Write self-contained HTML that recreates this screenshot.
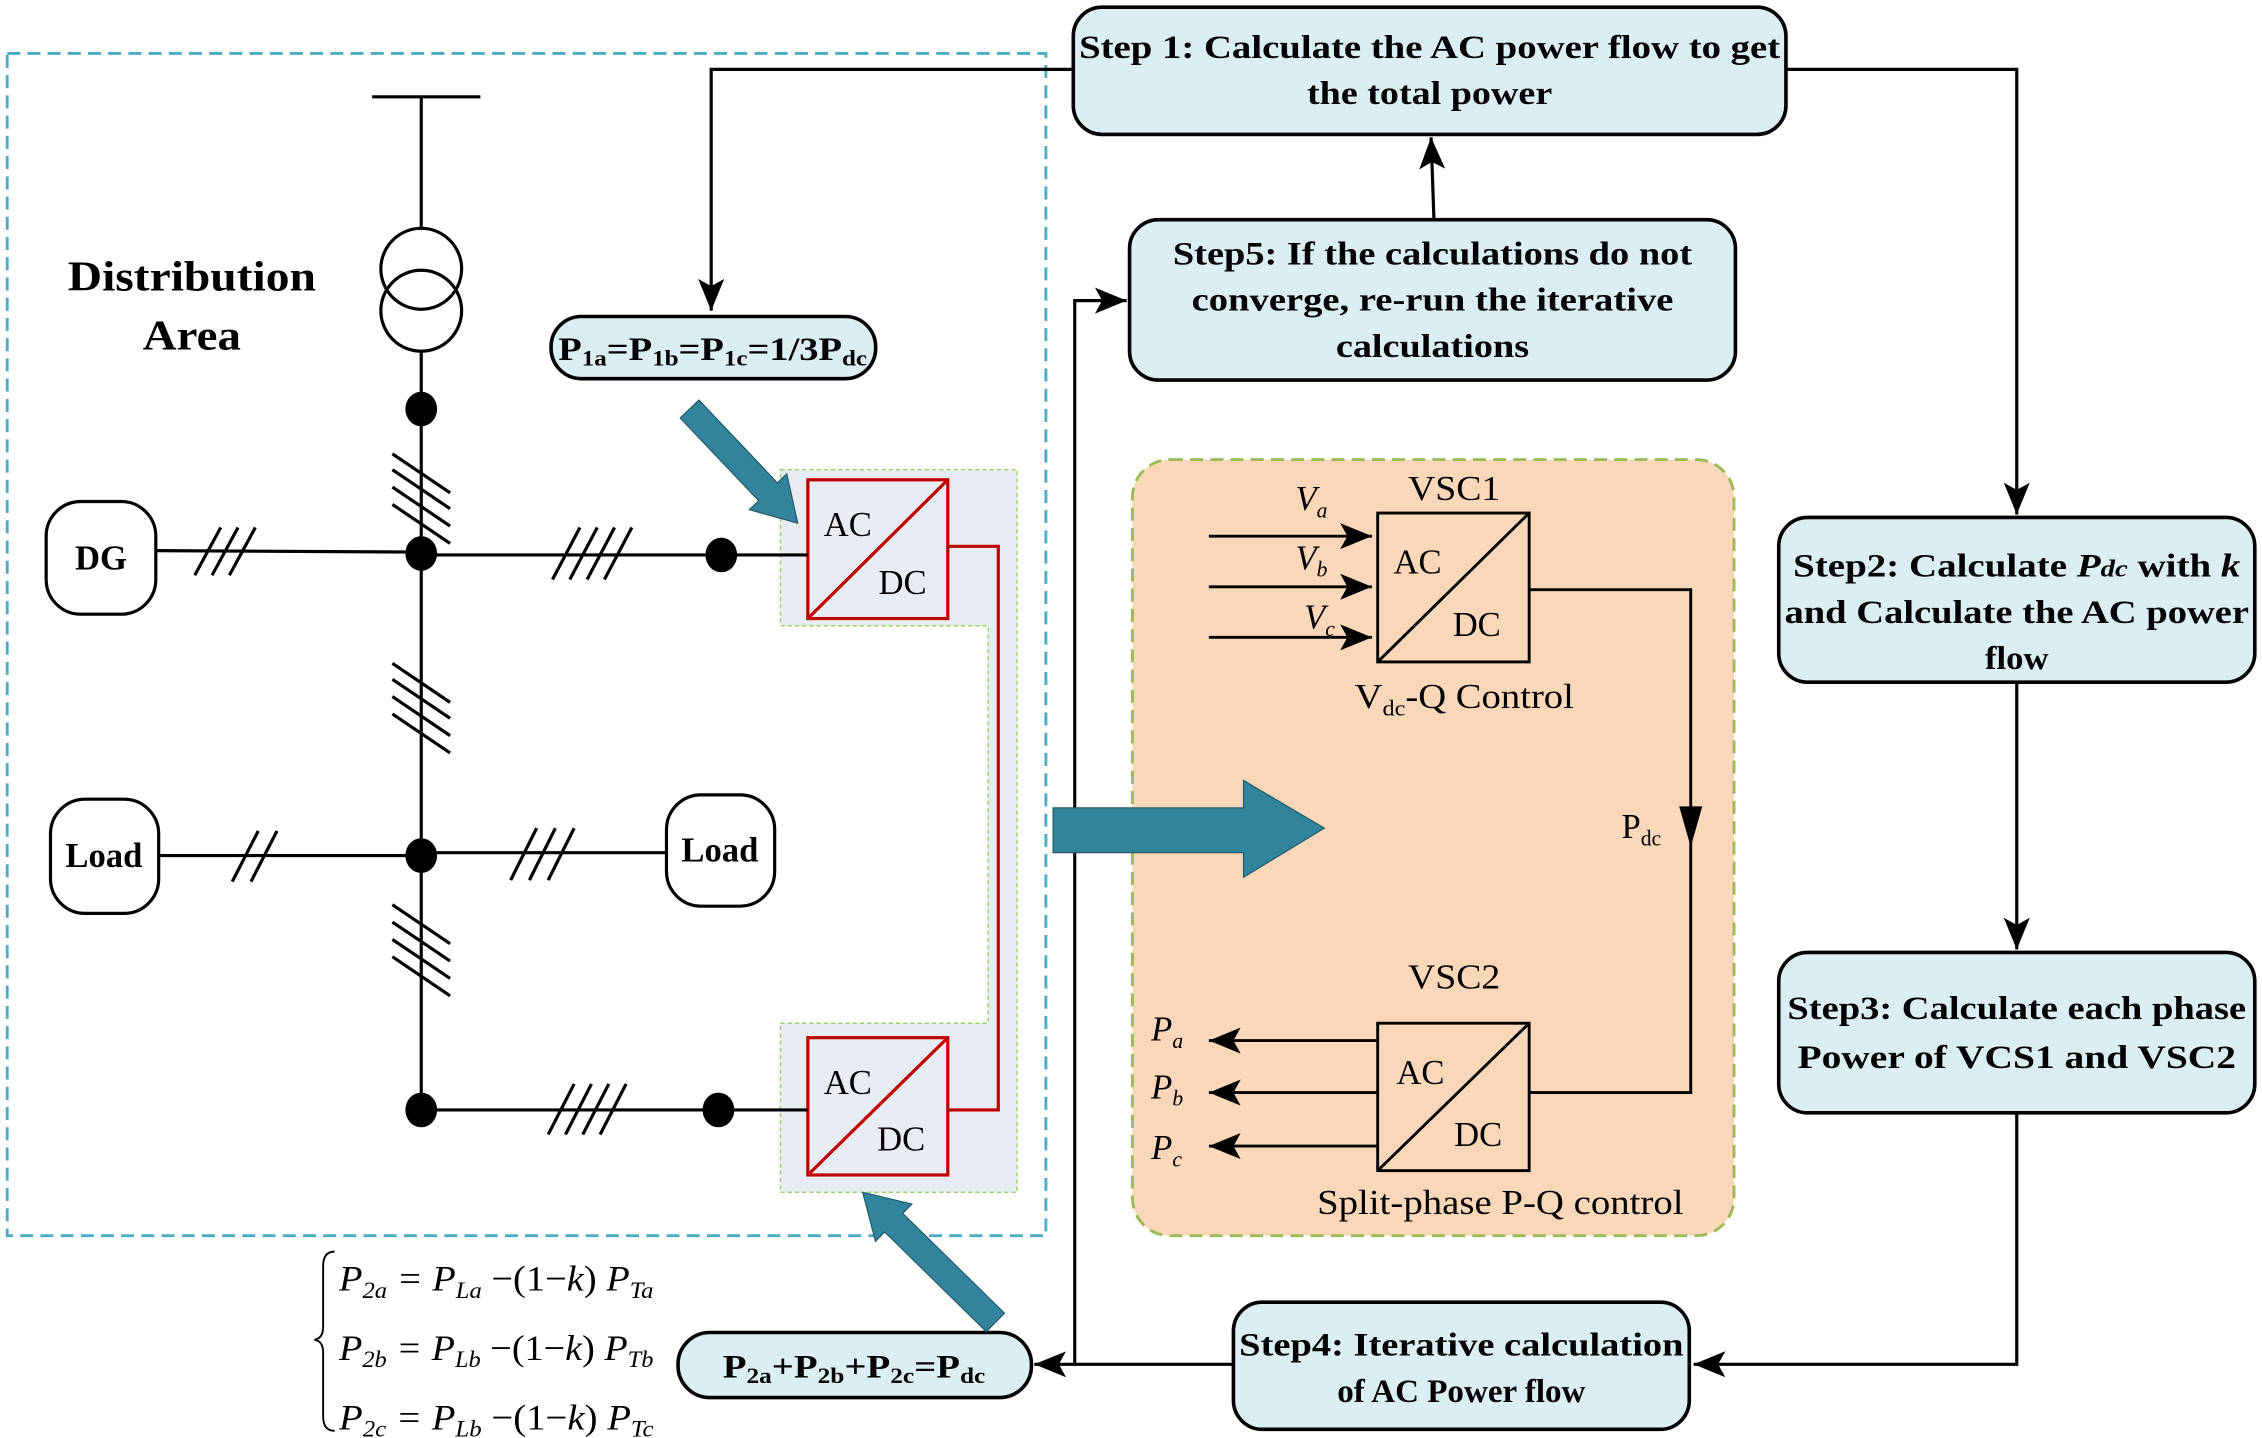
<!DOCTYPE html>
<html><head><meta charset="utf-8"><style>html,body{margin:0;padding:0;background:#fff}svg{display:block}</style></head><body>
<svg width="2262" height="1438" viewBox="0 0 1568 995" preserveAspectRatio="none" xmlns="http://www.w3.org/2000/svg" font-family="'Liberation Serif', serif">
<defs>
<marker id="ab" markerWidth="24" markerHeight="24" refX="22" refY="12" orient="auto" markerUnits="userSpaceOnUse"><path d="M0,3 L22,12 L0,21 L5,12 Z" fill="#000"/></marker>
</defs>
<rect width="1568" height="995" fill="#fff"/>
<rect x="5" y="37" width="720" height="818" fill="none" stroke="#4bacc6" stroke-width="2" stroke-dasharray="9,5"/>
<g stroke="#000" stroke-width="2.2" fill="none">
<polyline points="744,48 493,48 493,215" marker-end="url(#ab)"/>
<line x1="994" y1="152" x2="992" y2="95" marker-end="url(#ab)"/>
<polyline points="1238,48 1398,48 1398,356" marker-end="url(#ab)"/>
<line x1="1398" y1="472" x2="1398" y2="657" marker-end="url(#ab)"/>
<polyline points="1398,770 1398,944 1174,944" marker-end="url(#ab)"/>
<line x1="855" y1="944" x2="717" y2="944" marker-end="url(#ab)"/>
<polyline points="745,944 745,208 781,208" marker-end="url(#ab)"/>
</g>
<g fill="#daeef3" stroke="#000" stroke-width="2.5">
<rect x="744" y="5" width="494" height="88" rx="20"/>
<rect x="783" y="152" width="420" height="111" rx="20"/>
<rect x="1233" y="358" width="330" height="114" rx="20"/>
<rect x="1233" y="659" width="330" height="111" rx="20"/>
<rect x="855" y="901" width="316" height="88" rx="20"/>
<rect x="382" y="219" width="225" height="43" rx="21"/>
<rect x="470" y="922" width="245" height="45" rx="22"/>
</g>
<g font-weight="bold" font-size="23" text-anchor="middle" fill="#000" lengthAdjust="spacingAndGlyphs">
<text x="991" y="40" textLength="486" lengthAdjust="spacingAndGlyphs">Step 1: Calculate the AC power flow to get</text>
<text x="991" y="72" textLength="170" lengthAdjust="spacingAndGlyphs">the total power</text>
<text x="993" y="183" textLength="360" lengthAdjust="spacingAndGlyphs">Step5: If the calculations do not</text>
<text x="993" y="215" textLength="334" lengthAdjust="spacingAndGlyphs">converge, re-run the iterative</text>
<text x="993" y="247" textLength="134" lengthAdjust="spacingAndGlyphs">calculations</text>
<text x="1398" y="399" textLength="310" lengthAdjust="spacingAndGlyphs">Step2: Calculate <tspan font-style="italic">P<tspan font-size="17">dc</tspan></tspan> with <tspan font-style="italic">k</tspan></text>
<text x="1398" y="431" textLength="322" lengthAdjust="spacingAndGlyphs">and Calculate the AC power</text>
<text x="1398" y="463" textLength="44" lengthAdjust="spacingAndGlyphs">flow</text>
<text x="1398" y="705" textLength="318" lengthAdjust="spacingAndGlyphs">Step3: Calculate each phase</text>
<text x="1398" y="739" textLength="304" lengthAdjust="spacingAndGlyphs">Power of  VCS1 and VSC2</text>
<text x="1013" y="938" textLength="308" lengthAdjust="spacingAndGlyphs">Step4: Iterative calculation</text>
<text x="1013" y="970" textLength="172" lengthAdjust="spacingAndGlyphs">of AC Power flow</text>
<text x="494" y="249" textLength="214" lengthAdjust="spacingAndGlyphs">P<tspan font-size="15" dy="4">1a</tspan><tspan dy="-4">=P</tspan><tspan font-size="15" dy="4">1b</tspan><tspan dy="-4">=P</tspan><tspan font-size="15" dy="4">1c</tspan><tspan dy="-4">=1/3P</tspan><tspan font-size="15" dy="4">dc</tspan></text>
<text x="592" y="953" textLength="182" lengthAdjust="spacingAndGlyphs">P<tspan font-size="15" dy="4">2a</tspan><tspan dy="-4">+P</tspan><tspan font-size="15" dy="4">2b</tspan><tspan dy="-4">+P</tspan><tspan font-size="15" dy="4">2c</tspan><tspan dy="-4">=P</tspan><tspan font-size="15" dy="4">dc</tspan></text>
<text x="133" y="201" font-size="29" textLength="172" lengthAdjust="spacingAndGlyphs">Distribution</text>
<text x="133" y="242" font-size="29" textLength="68" lengthAdjust="spacingAndGlyphs">Area</text>
</g>
<path d="M232,866 Q224,866 224,876 L224,918 Q224,926 218,927 Q224,928 224,936 L224,980 Q224,990 232,990" fill="none" stroke="#000" stroke-width="1.3"/>
<g font-size="25" font-style="italic" fill="#000">
<text x="235" y="893" textLength="218" lengthAdjust="spacingAndGlyphs">P<tspan font-size="16" dy="5">2a</tspan><tspan dy="-5"> = P</tspan><tspan font-size="16" dy="5">La</tspan><tspan dy="-5" font-style="normal"> −(1−</tspan><tspan>k</tspan><tspan font-style="normal">)</tspan> P<tspan font-size="16" dy="5">Ta</tspan></text>
<text x="235" y="941" textLength="218" lengthAdjust="spacingAndGlyphs">P<tspan font-size="16" dy="5">2b</tspan><tspan dy="-5"> = P</tspan><tspan font-size="16" dy="5">Lb</tspan><tspan dy="-5" font-style="normal"> −(1−</tspan><tspan>k</tspan><tspan font-style="normal">)</tspan> P<tspan font-size="16" dy="5">Tb</tspan></text>
<text x="235" y="989" textLength="218" lengthAdjust="spacingAndGlyphs">P<tspan font-size="16" dy="5">2c</tspan><tspan dy="-5"> = P</tspan><tspan font-size="16" dy="5">Lb</tspan><tspan dy="-5" font-style="normal"> −(1−</tspan><tspan>k</tspan><tspan font-style="normal">)</tspan> P<tspan font-size="16" dy="5">Tc</tspan></text>
</g>
<rect x="785" y="318" width="417" height="537" rx="26" fill="#fad7b8" stroke="#9bbb59" stroke-width="2" stroke-dasharray="9,5"/>
<path d="M730,559 L862,559 L862,540 L918,573 L862,607 L862,590 L730,590 Z" fill="#31849b" stroke="#205867" stroke-width="0.8"/>
<g stroke="#000" stroke-width="2" fill="none">
<rect x="955" y="355" width="105" height="103"/><line x1="955" y1="458" x2="1060" y2="355"/>
<rect x="955" y="708" width="105" height="102"/><line x1="955" y1="810" x2="1060" y2="708"/>
<line x1="838" y1="371" x2="951" y2="371" marker-end="url(#ab)"/>
<line x1="838" y1="406" x2="951" y2="406" marker-end="url(#ab)"/>
<line x1="838" y1="441" x2="951" y2="441" marker-end="url(#ab)"/>
<line x1="955" y1="720" x2="838" y2="720" marker-end="url(#ab)"/>
<line x1="955" y1="756" x2="838" y2="756" marker-end="url(#ab)"/>
<line x1="955" y1="793" x2="838" y2="793" marker-end="url(#ab)"/>
<polyline points="1060,408 1172,408 1172,756 1060,756"/>
</g>
<path d="M1164,558 L1172,586 L1180,558 Z" fill="#000"/>
<g font-size="24" fill="#000">
<text x="1008" y="346" text-anchor="middle" textLength="64" lengthAdjust="spacingAndGlyphs">VSC1</text>
<text x="1008" y="684" text-anchor="middle" textLength="64" lengthAdjust="spacingAndGlyphs">VSC2</text>
<text x="966" y="397">AC</text><text x="1007" y="440">DC</text>
<text x="968" y="750">AC</text><text x="1008" y="793">DC</text>
<text x="1015" y="490" text-anchor="middle" textLength="152" lengthAdjust="spacingAndGlyphs">V<tspan font-size="15" dy="5">dc</tspan><tspan dy="-5">-Q Control</tspan></text>
<text x="1040" y="840" text-anchor="middle" textLength="254" lengthAdjust="spacingAndGlyphs">Split-phase P-Q control</text>
<text x="1124" y="580">P<tspan font-size="15" dy="5">dc</tspan></text>
<g font-style="italic"><text x="898" y="353">V<tspan font-size="15" dy="5">a</tspan></text>
<text x="898" y="394">V<tspan font-size="15" dy="5">b</tspan></text>
<text x="904" y="435">V<tspan font-size="15" dy="5">c</tspan></text>
<text x="798" y="720">P<tspan font-size="15" dy="5">a</tspan></text>
<text x="798" y="760">P<tspan font-size="15" dy="5">b</tspan></text>
<text x="798" y="802">P<tspan font-size="15" dy="5">c</tspan></text></g>
</g>
<path d="M541,325 L705,325 L705,825 L541,825 L541,708 L685,708 L685,433 L541,433 Z" fill="#e8edf4" stroke="#9bd36a" stroke-width="1" stroke-dasharray="3,2"/>
<g stroke="#c00000" stroke-width="2.2" fill="none">
<rect x="560" y="332" width="97" height="96"/><line x1="560" y1="428" x2="657" y2="332"/>
<rect x="560" y="718" width="97" height="95"/><line x1="560" y1="813" x2="657" y2="718"/>
<polyline points="657,378 692,378 692,768 657,768"/>
</g>
<g font-size="24" fill="#000"><text x="571" y="371">AC</text><text x="609" y="411">DC</text><text x="571" y="757">AC</text><text x="608" y="796">DC</text></g>
<polygon points="484.5,276.8 538.9,334.1 545.4,327.9 553,362 519.4,352.7 525.9,346.5 471.5,289.2" fill="#31849b" stroke="#205867" stroke-width="0.8"/>
<polygon points="696.3,908.6 625.8,839.6 632.1,833.1 598,825 606.9,858.9 613.2,852.4 683.7,921.4" fill="#31849b" stroke="#205867" stroke-width="0.8"/>
<g stroke="#000" stroke-width="2.2" fill="none">
<line x1="258" y1="67" x2="333" y2="67"/>
<line x1="292" y1="67" x2="292" y2="157"/>
<circle cx="292" cy="186" r="28"/><circle cx="292" cy="215" r="28"/>
<line x1="292" y1="243" x2="292" y2="768"/>
<line x1="108" y1="381" x2="292" y2="382"/>
<line x1="292" y1="384" x2="560" y2="384"/>
<line x1="110" y1="592" x2="292" y2="592"/>
<line x1="292" y1="590" x2="462" y2="590"/>
<line x1="292" y1="768" x2="560" y2="768"/>
<rect x="32" y="347" width="76" height="78" rx="24"/>
<rect x="35" y="553" width="75" height="79" rx="24"/>
<rect x="462" y="550" width="75" height="77" rx="24"/>
<path d="M272,314 L312,341 M272,325 L312,352 M272,337 L312,364 M272,349 L312,376"/>
<path d="M272,459 L312,486 M272,470 L312,497 M272,482 L312,509 M272,494 L312,521"/>
<path d="M272,626 L312,653 M272,638 L312,665 M272,650 L312,677 M272,662 L312,689"/>
<path d="M135,398 L153,365 M147,398 L165,365 M159,398 L177,365"/>
<path d="M383,401 L402,365 M395,401 L414,365 M407,401 L426,365 M419,401 L438,365"/>
<path d="M161,610 L179,575 M174,610 L192,575"/>
<path d="M354,609 L372,573 M367,609 L385,573 M380,609 L398,573"/>
<path d="M380,785 L398,750 M392,785 L410,750 M404,785 L422,750 M416,785 L434,750"/>
</g>
<g fill="#000">
<ellipse cx="292" cy="283" rx="11" ry="12"/><ellipse cx="292" cy="383" rx="11" ry="12"/>
<ellipse cx="292" cy="592" rx="11" ry="12"/><ellipse cx="292" cy="768" rx="11" ry="12"/>
<ellipse cx="500" cy="384" rx="11" ry="12"/><ellipse cx="498" cy="768" rx="11" ry="12"/>
</g>
<g font-weight="bold" font-size="24" text-anchor="middle" fill="#000">
<text x="70" y="394">DG</text><text x="72" y="600">Load</text><text x="499" y="596">Load</text>
</g>
</svg>
</body></html>
